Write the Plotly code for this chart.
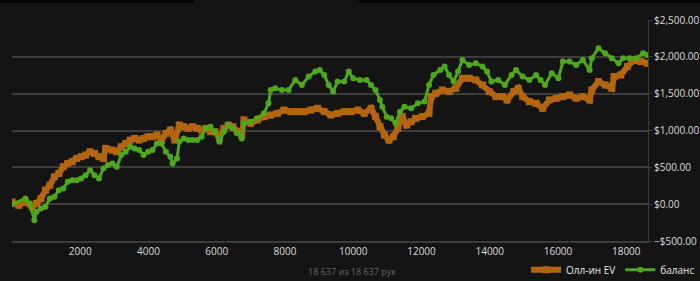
import plotly.graph_objects as go

# Олл-ин EV (hands, $)
hands_ev = [0, 196, 392, 588, 719, 850, 980, 1111, 1242, 1372, 1503, 1634, 1765, 1895, 2026, 2157, 2287,
            2418, 2549, 2679, 2745, 2941, 3071, 3202, 3333, 3464, 3594, 3725, 3856, 3987, 4117, 4248,
            4379, 4510, 4640, 4771, 4902, 5032, 5163, 5294, 5425, 5555, 5686, 5817, 5947, 6078, 6209,
            6339, 6470, 6601, 6731, 6797, 6993, 7189, 7385, 7581, 7777, 7973, 8169, 8365, 8561, 8757,
            8953, 9149, 9345, 9541, 9737, 9933, 10129, 10325, 10521, 10652, 10782, 10913, 11044, 11174,
            11305, 11436, 11566, 11697, 11828, 12024, 12220, 12285, 12416, 12612, 12808, 13004, 13200,
            13396, 13592, 13788, 13984, 14180, 14376, 14507, 14703, 14834, 14965, 15161, 15357, 15553,
            15749, 15945, 16141, 16337, 16533, 16729, 16925, 16990, 17186, 17382, 17578, 17643, 17839,
            18035, 18231, 18427, 18623]
ev = [30, -15, 30, -35, 10, 77, 190, 258, 372, 417, 508, 553, 576, 621, 644, 666, 712,
      689, 644, 621, 757, 734, 712, 780, 825, 870, 893, 870, 893, 916, 916, 938,
      870, 961, 1006, 870, 1074, 1052, 1029, 1052, 1029, 1006, 1029, 984, 984, 893, 1029,
      1074, 1052, 984, 938, 1142, 1097, 1142, 1188, 1210, 1233, 1278, 1256, 1256, 1256, 1278,
      1301, 1256, 1210, 1233, 1256, 1256, 1278, 1233, 1301, 1188, 1052, 938, 870, 916,
      1029, 1188, 1074, 1120, 1165, 1188, 1233, 1460, 1505, 1550, 1528, 1573, 1709,
      1709, 1686, 1618, 1528, 1460, 1460, 1414, 1528, 1573, 1460, 1392, 1369, 1301,
      1414, 1437, 1460, 1482, 1437, 1460, 1414, 1550, 1664, 1618, 1573, 1732, 1754,
      1868, 1958, 1936, 1913]

# баланс (hands, $)
hands_bal = [0, 392, 523, 654, 719, 850, 980, 1111, 1242, 1372, 1503, 1634, 1765, 1895, 2026, 2157,
             2287, 2418, 2549, 2679, 2810, 2941, 3071, 3202, 3333, 3464, 3594, 3725, 3856, 3987, 4117,
             4248, 4379, 4510, 4640, 4706, 4837, 4902, 5032, 5163, 5294, 5425, 5555, 5686, 5817, 5947,
             6078, 6209, 6339, 6470, 6601, 6731, 6797, 6993, 7189, 7385, 7515, 7581, 7712, 7908, 8104,
             8300, 8496, 8692, 8888, 9018, 9149, 9280, 9410, 9541, 9737, 9868, 9998, 10194, 10390,
             10521, 10652, 10782, 10848, 10978, 11109, 11240, 11370, 11501, 11697, 11893, 12089, 12220,
             12351, 12547, 12677, 12808, 12939, 13070, 13200, 13396, 13592, 13788, 13919, 14049, 14245,
             14441, 14638, 14768, 14965, 15161, 15357, 15488, 15619, 15815, 16011, 16141, 16337, 16533,
             16729, 16925, 16990, 17186, 17382, 17578, 17774, 17904, 18100, 18296, 18492, 18623]
balance = [0, 77, 9, -218, -104, -59, -36, 77, 100, 190, 213, 304, 326, 326, 349, 394,
           462, 394, 349, 485, 530, 553, 508, 666, 712, 780, 757, 734, 666, 712, 734,
           825, 825, 712, 644, 553, 621, 848, 893, 870, 870, 870, 916, 1029, 1052, 984,
           848, 984, 1074, 1029, 961, 893, 1097, 1120, 1165, 1233, 1369, 1550, 1573, 1550, 1550,
           1686, 1618, 1732, 1800, 1822, 1754, 1618, 1528, 1664, 1664, 1800, 1709, 1686, 1686,
           1618, 1550, 1414, 1324, 1188, 1165, 1097, 1256, 1324, 1301, 1369, 1392, 1618,
           1754, 1822, 1868, 1754, 1664, 1800, 1958, 1890, 1913, 1868, 1800, 1664, 1686,
           1618, 1754, 1822, 1732, 1686, 1754, 1686, 1618, 1777, 1709, 1936, 1936, 1890,
           1958, 1822, 1981, 2117, 2049, 1981, 1913, 1981, 1981, 1981, 2049, 2026]

y_ticks = [-500, 0, 500, 1000, 1500, 2000, 2500]
x_ticks = [2000, 4000, 6000, 8000, 10000, 12000, 14000, 16000, 18000]
x_tick_labels = ["2000", "4000", "6000", "8000", "10000", "12000", "14000", "16000", "18000"]
total_hands = 18637

ORANGE = "#b3650f"
GREEN = "#4fa81c"
BG = "#141414"
GRID = "#3c3c3c"

fig = go.Figure()
fig.add_trace(go.Scatter(
    x=hands_ev, y=ev, name="Олл-ин EV", mode="lines+markers",
    line=dict(color=ORANGE, width=6),
    marker=dict(symbol="square", size=7, color=ORANGE),
))
fig.add_trace(go.Scatter(
    x=hands_bal, y=balance, name="баланс", mode="lines+markers",
    line=dict(color=GREEN, width=3),
    marker=dict(symbol="circle", size=6, color=GREEN),
))

fig.update_layout(
    width=700, height=281,
    margin=dict(l=12, r=52, t=20, b=40, autoexpand=False),
    paper_bgcolor=BG, plot_bgcolor=BG,
    font=dict(family="Open Sans, Noto Sans, sans-serif", color="#dcdcdc", size=10),
    showlegend=True,
    legend=dict(orientation="h", xref="container", yref="container",
                x=1.0, xanchor="right", y=0.04, yanchor="middle",
                bgcolor="rgba(0,0,0,0)", font=dict(size=10, color="#e8e8e8"),
                itemwidth=30, tracegroupgap=0),
    xaxis=dict(range=[0, total_hands], tickvals=x_ticks, ticktext=x_tick_labels,
               showgrid=False, zeroline=False,
               showline=True, linecolor=GRID, linewidth=1.5, ticks="", tickfont=dict(size=10)),
    yaxis=dict(range=[-500, 2500], tickvals=y_ticks, side="right", tickformat="$,.2f",
               showgrid=True, gridcolor=GRID, gridwidth=1.5, zeroline=False,
               showline=True, linecolor=GRID, linewidth=1, ticks="outside", ticklen=3,
               tickcolor=GRID, tickfont=dict(size=10)),
)

hands_txt = f"{total_hands:,}".replace(",", " ")
fig.add_annotation(text=f"{hands_txt} из {hands_txt} рук",
                   xref="paper", yref="paper", x=0.535, y=-0.176, yanchor="bottom",
                   showarrow=False, font=dict(size=9, color="#666666"))

# top strip
fig.add_shape(type="rect", xref="paper", yref="paper", x0=-0.02, x1=0.286, y0=1.077, y1=1.1,
              fillcolor="#050505", line=dict(width=0), layer="above")
fig.add_shape(type="rect", xref="paper", yref="paper", x0=0.5456, x1=1.09, y0=1.077, y1=1.1,
              fillcolor="#050505", line=dict(width=0), layer="above")

fig.write_html("out.html")
